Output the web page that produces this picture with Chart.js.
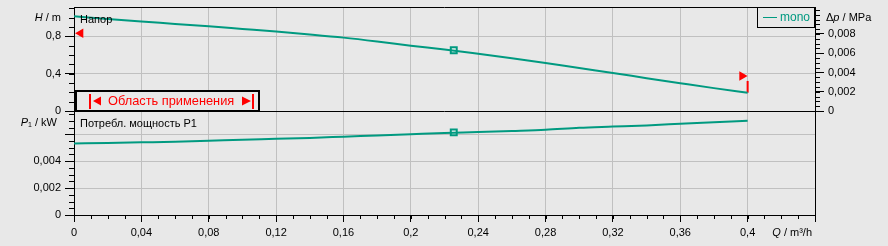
<!DOCTYPE html>
<html>
<head>
<meta charset="utf-8">
<script src="https://cdn.jsdelivr.net/npm/chart.js@4"></script>
<style>
  html, body { margin: 0; padding: 0; background: #e8e8e8; }
  canvas { display: block; }
</style>
</head>
<body>
<canvas id="pumpChart" width="888" height="246"></canvas>
<script>
  // flow Q, m³/h
  const flow = [0, 0.02, 0.04, 0.06, 0.08, 0.10, 0.12, 0.14, 0.16, 0.18, 0.20,
                0.22, 0.24, 0.26, 0.28, 0.30, 0.32, 0.34, 0.36, 0.38, 0.40];
  // head H, m
  const head = [1.015, 0.985, 0.958, 0.933, 0.907, 0.879, 0.851, 0.820, 0.786, 0.745, 0.700,
                0.660, 0.614, 0.566, 0.514, 0.460, 0.407, 0.352, 0.298, 0.245, 0.196];
  // power input P1, kW
  const power = [0.00532, 0.00535, 0.00540, 0.00545, 0.00552, 0.00560, 0.00566, 0.00573, 0.00582, 0.00591, 0.00600,
                 0.00609, 0.00616, 0.00624, 0.00633, 0.00648, 0.00657, 0.00666, 0.00678, 0.00690, 0.00701];
  // duty point
  const dutyQ = 0.2255;
  const dutyH = 0.650;
  const dutyP = 0.00614;
  // limits of the working range (red marks)
  const rangeLeft = { q: 0.0039, h: 0.833 };
  const rangeRight = { q: 0.3967, h: 0.375 };
  const rangeEndLine = [0.196, 0.322];

  const teal = '#009a80';
  const red = '#ff0000';
  const gridCol = '#c0c0c0';
  const font = { family: 'Liberation Sans, Arial, sans-serif', size: 11 };

  const fmt = v => String(+(+v).toFixed(4)).replace('.', ',');
  const pts = ys => flow.map((q, i) => ({ x: q, y: ys[i] }));

  // fixed axis sizes, no extra label padding
  const fitY = w => s => { s.width = w; s.paddingTop = 0; s.paddingBottom = 0; };

  const frame = {
    id: 'frame',
    afterDraw(chart) {
      const { ctx, chartArea: a, scales } = chart;
      const px = v => Math.round(v) + 0.5;
      ctx.save();
      ctx.strokeStyle = '#000';
      ctx.lineWidth = 1;
      ctx.beginPath();
      // top border and panel divider
      ctx.moveTo(a.left, px(a.top)); ctx.lineTo(a.right, px(a.top));
      const div = px(scales.yH.bottom);
      ctx.moveTo(a.left, div); ctx.lineTo(a.right, div);
      // minor ticks
      const minor = (scale, step, top, side, len) => {
        for (let v = step; v <= top + 1e-9; v += step) {
          const y = px(scale.getPixelForValue(v));
          const x0 = side === 'left' ? a.left - len : a.right;
          ctx.moveTo(x0, y); ctx.lineTo(x0 + len, y);
        }
      };
      minor(scales.yH, 0.1, 1.1, 'left', 5);
      minor(scales.yP, 0.0005, 0.0075, 'left', 5);
      minor(scales.yDp, 0.0005, 0.0105, 'right', 5);
      for (let v = 0; v <= 0.44 + 1e-9; v += 0.01) {
        const x = px(scales.x.getPixelForValue(v));
        ctx.moveTo(x, a.bottom); ctx.lineTo(x, a.bottom + 4);
      }
      ctx.stroke();

      // axis titles
      const normal = '11px Liberation Sans, Arial, sans-serif';
      const italic = 'italic 11px Liberation Sans, Arial, sans-serif';
      ctx.fillStyle = '#000';
      ctx.textBaseline = 'middle';
      const parts = (list, x, y, align) => {
        let w = 0;
        list.forEach(p => { ctx.font = p.f; w += ctx.measureText(p.t).width; });
        let cx = align === 'right' ? x - w : x;
        ctx.textAlign = 'left';
        list.forEach(p => {
          ctx.font = p.f;
          ctx.fillText(p.t, cx, y + (p.dy || 0));
          cx += ctx.measureText(p.t).width;
        });
      };
      parts([{ t: 'H', f: italic }, { t: ' / m', f: normal }], 61, scales.yH.top + 10.5, 'right');
      parts([{ t: 'P', f: italic }, { t: '1', f: '7px Liberation Sans, Arial, sans-serif', dy: 2 }, { t: ' / kW', f: normal }],
            57, scales.yP.top + 12, 'right');
      parts([{ t: 'Δ', f: normal }, { t: 'p', f: italic }, { t: ' / MPa', f: normal }], a.right + 11, scales.yDp.top + 11, 'left');
      parts([{ t: 'Q', f: italic }, { t: ' / m³/h', f: normal }], 812, a.bottom + 18, 'right');

      // curve names
      ctx.font = normal;
      ctx.textAlign = 'left';
      ctx.fillText('Напор', a.left + 6, scales.yH.top + 12.5);
      ctx.fillText('Потребл. мощность P1', a.left + 6, scales.yP.top + 13);

      // legend
      ctx.strokeRect(a.right - 57.5, px(a.top), 57, 20);
      ctx.strokeStyle = teal;
      ctx.beginPath();
      ctx.moveTo(a.right - 52, a.top + 10.5); ctx.lineTo(a.right - 38, a.top + 10.5);
      ctx.stroke();
      ctx.fillStyle = teal;
      ctx.font = '12px Liberation Sans, Arial, sans-serif';
      ctx.fillText('mono', a.right - 35, a.top + 10.5);

      // working range box
      const by = scales.yH.bottom;
      const bx = a.left;
      ctx.fillStyle = '#e8e8e8';
      ctx.fillRect(bx + 1, by - 20, 184, 20);
      ctx.strokeStyle = '#000';
      ctx.lineWidth = 2;
      ctx.strokeRect(bx + 2, by - 20, 183, 20);
      const cy = by - 10;
      ctx.fillStyle = red;
      // |◄ and ►| signs
      ctx.fillRect(bx + 15, cy - 7, 2, 15);
      ctx.beginPath();
      ctx.moveTo(bx + 19, cy); ctx.lineTo(bx + 27, cy - 4.5); ctx.lineTo(bx + 27, cy + 4.5); ctx.closePath();
      ctx.moveTo(bx + 177, cy); ctx.lineTo(bx + 168, cy - 4.5); ctx.lineTo(bx + 168, cy + 4.5); ctx.closePath();
      ctx.fill();
      ctx.fillRect(bx + 178, cy - 7, 2, 15);
      ctx.font = '12.8px Liberation Sans, Arial, sans-serif';
      ctx.fillText('Область применения', bx + 34, cy + 0.5);
      ctx.restore();
    }
  };

  new Chart(document.getElementById('pumpChart'), {
    type: 'scatter',
    data: {
      datasets: [
        {
          label: 'Напор',
          data: pts(head),
          yAxisID: 'yH',
          showLine: true,
          borderColor: teal,
          borderWidth: 2,
          pointRadius: 0,
          cubicInterpolationMode: 'monotone'
        },
        {
          label: 'Потребл. мощность P1',
          data: pts(power),
          yAxisID: 'yP',
          showLine: true,
          borderColor: teal,
          borderWidth: 2,
          pointRadius: 0,
          cubicInterpolationMode: 'monotone'
        },
        {
          label: 'duty H',
          data: [{ x: dutyQ, y: dutyH }],
          yAxisID: 'yH',
          pointStyle: 'rect',
          pointRadius: 4.2,
          borderWidth: 2,
          borderColor: teal,
          backgroundColor: '#f2f2f2'
        },
        {
          label: 'duty P',
          data: [{ x: dutyQ, y: dutyP }],
          yAxisID: 'yP',
          pointStyle: 'rect',
          pointRadius: 4.2,
          borderWidth: 2,
          borderColor: teal,
          backgroundColor: '#f2f2f2'
        },
        {
          label: 'range left',
          data: [{ x: rangeLeft.q, y: rangeLeft.h }],
          yAxisID: 'yH',
          pointStyle: 'triangle',
          rotation: 270,
          pointRadius: 5.5,
          borderWidth: 0,
          backgroundColor: red,
          clip: false
        },
        {
          label: 'range right',
          data: [{ x: rangeRight.q, y: rangeRight.h }],
          yAxisID: 'yH',
          pointStyle: 'triangle',
          rotation: 90,
          pointRadius: 5.5,
          borderWidth: 0,
          backgroundColor: red,
          clip: false
        },
        {
          label: 'range end',
          data: rangeEndLine.map(h => ({ x: 0.4, y: h })),
          yAxisID: 'yH',
          showLine: true,
          borderColor: red,
          borderWidth: 2,
          pointRadius: 0
        }
      ]
    },
    options: {
      responsive: false,
      animation: false,
      devicePixelRatio: 1,
      layout: { padding: { top: 7, left: 0, right: 0, bottom: 0 } },
      plugins: { legend: { display: false }, tooltip: { enabled: false } },
      scales: {
        x: {
          type: 'linear',
          position: 'bottom',
          min: 0,
          max: 0.44,
          afterFit: s => { s.height = 31; s.paddingLeft = 0; s.paddingRight = 0; },
          ticks: {
            stepSize: 0.04,
            autoSkip: false,
            maxRotation: 0,
            padding: 4,
            font,
            color: '#000',
            callback: v => v > 0.41 ? '' : fmt(v)
          },
          grid: {
            color: c => (c.tick && c.tick.value > 0 && c.tick.value < 0.43) ? gridCol : 'transparent',
            tickLength: 7,
            tickColor: '#000'
          },
          border: { color: '#000' }
        },
        yH: {
          type: 'linear',
          position: 'left',
          stack: 'L',
          stackWeight: 1,
          weight: 2,
          min: 0,
          max: 1.114,
          afterFit: fitY(74),
          ticks: { stepSize: 0.4, includeBounds: false, autoSkip: false, padding: 4, font, color: '#000', callback: fmt },
          grid: {
            color: c => (c.tick && c.tick.value > 0) ? gridCol : 'transparent',
            tickLength: 9,
            tickColor: '#000'
          },
          border: { color: '#000' }
        },
        yP: {
          type: 'linear',
          position: 'left',
          stack: 'L',
          stackWeight: 1,
          weight: 1,
          min: 0,
          max: 0.00773,
          afterFit: fitY(74),
          ticks: {
            stepSize: 0.002, includeBounds: false, autoSkip: false, padding: 4, font, color: '#000',
            callback: v => v > 0.005 ? '' : fmt(v)
          },
          grid: {
            color: c => (c.tick && c.tick.value > 0) ? gridCol : 'transparent',
            tickLength: 9,
            tickColor: '#000'
          },
          border: { color: '#000' }
        },
        yDp: {
          type: 'linear',
          position: 'right',
          stack: 'R',
          stackWeight: 1,
          weight: 1,
          min: 0,
          max: 0.0108,
          afterFit: fitY(73),
          ticks: {
            stepSize: 0.002, includeBounds: false, autoSkip: false, padding: 4, font, color: '#000',
            callback: v => v > 0.009 ? '' : fmt(v)
          },
          grid: {
            drawOnChartArea: false,
            tickLength: 9,
            tickColor: c => (c.tick && c.tick.value > 0.009) ? 'transparent' : '#000'
          },
          border: { color: '#000' }
        },
        yR2: {
          type: 'linear',
          position: 'right',
          stack: 'R',
          stackWeight: 1,
          weight: 2,
          min: 0,
          max: 1,
          afterFit: fitY(73),
          ticks: { display: false },
          grid: { display: false, drawTicks: false },
          border: { color: '#000' }
        }
      }
    },
    plugins: [frame]
  });
</script>
</body>
</html>
